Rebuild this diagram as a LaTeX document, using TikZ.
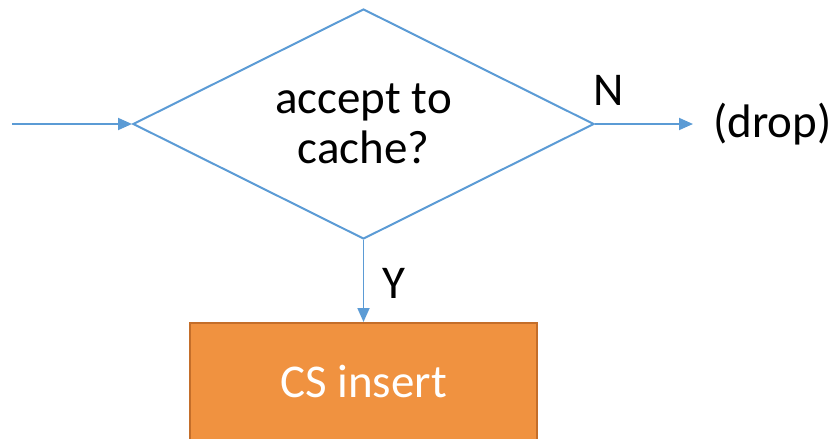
\documentclass[tikz,border=0pt]{standalone}
\usepackage{fontspec}
\setmainfont{Carlito}
\usetikzlibrary{shapes.geometric,arrows.meta}

\definecolor{flowblue}{RGB}{91,155,213}
\definecolor{boxorange}{RGB}{240,146,64}
\definecolor{boxedge}{RGB}{196,110,42}

\tikzset{
  decision/.style={diamond, draw=flowblue, line width=2pt, aspect=2,
    minimum width=461pt, minimum height=230pt, inner sep=0pt, align=center},
  insertbox/.style={rectangle, draw=boxedge, fill=boxorange, line width=2pt,
    minimum width=347pt, minimum height=117pt, text=white},
  flow/.style={draw=flowblue, line width=1.8pt, -{Triangle[length=14pt,width=12pt]}},
}

\begin{document}
\begin{tikzpicture}[x=1pt, y=-1pt, font=\fontsize{47}{50}\selectfont]
  \useasboundingbox (0, 0) rectangle (838, 439);

  \node[decision] (accept) at (363.5, 124) {accept to\\cache?};
  \node[insertbox] (insert) at (363.5, 381.5) {CS insert};
  \node[anchor=west, inner xsep=20pt, inner ysep=0pt] (drop) at (693, 124) {(drop)};
  \coordinate (in) at (12, 124);

  \draw[flow] (in) -- (accept.west);
  \draw[flow] (accept.east) -- node[pos=0.14, yshift=34pt] {N} (drop.west);
  \draw[flow] (accept.south) -- node[pos=0.53, xshift=30pt] {Y} (insert.north);
\end{tikzpicture}
\end{document}
